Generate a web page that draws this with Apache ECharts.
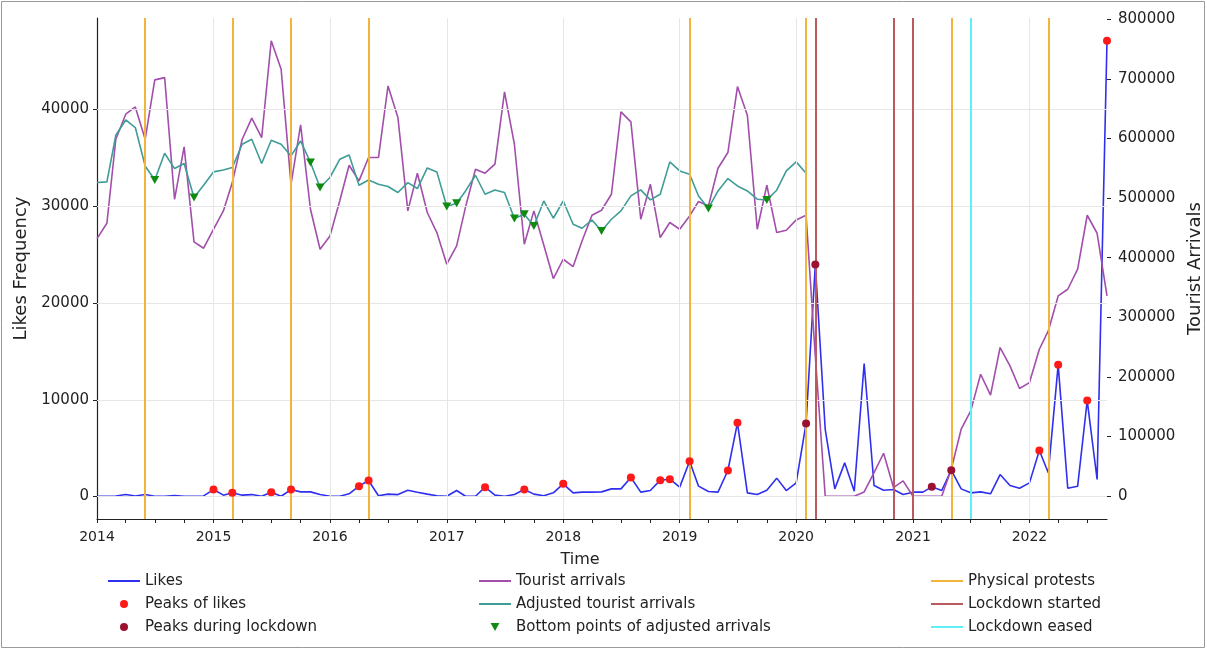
<!DOCTYPE html>
<html>
<head>
<meta charset="utf-8">
<title>Likes and tourist arrivals</title>
<script src="https://cdn.jsdelivr.net/npm/echarts@6/dist/echarts.min.js"></script>
<style>
  html, body { margin: 0; padding: 0; background: #ffffff; }
  #chart { width: 1207px; height: 650px; }
</style>
</head>
<body>
<div id="chart"></div>
<script>
// ---- data -------------------------------------------------------------
// Monthly observations, January 2014 to September 2022
const START_YEAR = 2014;
const START_MONTH = 0;
const MONTH_COUNT = 105;

const likes = [
  30, 30, 60, 200, 60, 200, 30, 30, 100, 30, 30, 60,
  720, 140, 380, 140, 200, 30, 450, 30, 720, 480, 480, 200,
  30, 30, 280, 1070, 1650, 80, 250, 200, 650, 450, 250, 80,
  30, 620, 30, 30, 970, 140, 30, 200, 720, 250, 80, 380,
  1310, 380, 450, 450, 480, 790, 790, 1960, 450, 620, 1690, 1790,
  970, 3650, 1070, 520, 450, 2690, 7620, 380, 200, 650, 1900, 620,
  1410, 7550, 23980, 6930, 790, 3480, 550, 13750, 1140, 650, 720, 200,
  450, 450, 1000, 620, 2720, 790, 380, 480, 280, 2270, 1140, 860,
  1410, 4750, 2450, 13610, 860, 1070, 9920, 1760, 47100
];

const touristArrivals = [
  432000, 457800, 598700, 640600, 652900, 598700, 698200, 702000, 498000, 585800, 426500, 415900,
  447700, 478500, 526000, 598700, 634000, 601500, 763800, 716000, 523000, 622700, 481300, 414200,
  436500, 495900, 555100, 528800, 568000, 568000, 688000, 635000, 478500, 541700, 475800, 442200,
  389100, 419800, 485200, 548400, 541700, 556800, 678000, 590300, 422600, 478500, 421400, 365000,
  397400, 385200, 428100, 471200, 479600, 506400, 644500, 627700, 464500, 523200, 433800, 459000,
  447700, 470100, 494200, 486800, 550000, 576400, 687000, 639000, 447700, 521500, 442200, 446100,
  463400, 471200, 235000, 0, 0, 0, 0, 7200, 39700, 72100, 14500, 25700,
  0, 0, 0, 0, 45300, 112400, 143100, 204600, 169400, 249400, 218600, 180600,
  190600, 246500, 277200, 335900, 347100, 380700, 471200, 441000, 335900
];

// Seasonally adjusted arrivals, January 2014 to February 2020
const adjustedArrivals = [
  526000, 527100, 605400, 631000, 618300, 553900, 530400, 575200, 549500, 557900, 500900, 521500,
  543900, 547200, 551200, 590300, 598700, 557900, 597000, 590300, 570700, 595800, 559600, 517700,
  534500, 565200, 572400, 521500, 530400, 523200, 519400, 509300, 526000, 516000, 550600, 543900,
  485800, 491400, 512000, 538300, 506400, 513700, 509300, 465700, 472900, 453300, 495200, 466200,
  495200, 456100, 449400, 463400, 444900, 464500, 478500, 503600, 513700, 496900, 506400, 560700,
  545600, 540000, 503600, 482700, 512000, 532800, 520400, 512000, 498100, 496900, 513200, 545600,
  560700, 541700
];

// Months flagged as peaks / bottoms (YYYY-MM)
const likePeakMonths = [
  '2015-01', '2015-03', '2015-07', '2015-09', '2016-04', '2016-05', '2017-05', '2017-09',
  '2018-01', '2018-08', '2018-11', '2018-12', '2019-02', '2019-06', '2019-07',
  '2022-02', '2022-04', '2022-07', '2022-09'
];
const lockdownPeakMonths = ['2020-02', '2020-03', '2021-03', '2021-05'];
const adjustedBottomMonths = [
  '2014-07', '2014-11', '2015-11', '2015-12', '2017-01', '2017-02',
  '2017-08', '2017-09', '2017-10', '2018-05', '2019-04', '2019-10'
];

// Event dates
const protestDates = [
  '2014-06-01', '2015-03-01', '2015-09-01', '2016-05-01',
  '2019-02-01', '2020-02-01', '2021-05-01', '2022-03-01'
];
const lockdownStartDates = ['2020-03-01', '2020-11-01', '2021-01-01'];
const lockdownEasedDates = ['2021-07-01'];

// Tick positions
const yearTicks = [2014, 2015, 2016, 2017, 2018, 2019, 2020, 2021, 2022];
const likesTicks = [0, 10000, 20000, 30000, 40000];
const arrivalsTicks = [0, 100000, 200000, 300000, 400000, 500000, 600000, 700000, 800000];

// ---- helpers ----------------------------------------------------------
const months = [];
for (let i = 0; i < MONTH_COUNT; i++) {
  months.push(Date.UTC(START_YEAR, START_MONTH + i, 1));
}
const monthKey = t => {
  const d = new Date(t);
  return d.getUTCFullYear() + '-' + String(d.getUTCMonth() + 1).padStart(2, '0');
};
const monthIndex = {};
months.forEach((t, i) => { monthIndex[monthKey(t)] = i; });
const dateTs = s => {
  const [y, m, d] = s.split('-').map(Number);
  return Date.UTC(y, m - 1, d);
};

const pairs = (vals) => vals.map((v, i) => [months[i], v]);
const pick = (keys, vals) => keys.map(k => [months[monthIndex[k]], vals[monthIndex[k]]]);

const quarterTicks = [];
for (let i = 0; i < MONTH_COUNT; i += 3) quarterTicks.push(months[i]);
const yearTs = yearTicks.map(y => Date.UTC(y, 0, 1));

// matplotlib-style 5% margins on the value axes
const padRange = (vals) => {
  const lo = Math.min(...vals), hi = Math.max(...vals);
  const p = (hi - lo) * 0.05;
  return [lo - p, hi + p];
};
const likesRange = padRange(likes);
const arrivalsRange = padRange(touristArrivals.concat(adjustedArrivals));

const FONT = 'DejaVu Sans';
const TEXT = '#222222';

const COLORS = {
  likes: '#2f2ff0',
  likePeak: '#ff1a1a',
  lockPeak: '#9b1230',
  tourist: '#a24fab',
  adjusted: '#3f9c96',
  bottom: '#108a10',
  protest: '#f3b43e',
  lockStart: '#b85a5e',
  lockEased: '#5ff0f5'
};

const downTriangle = 'path://M0,0 L10,0 L5,9 Z';
// flat bar used as the legend sample for line-type entries
const lineIcon = 'path://M0,0 H32 V2 H0 Z';

const vLines = (dates) => dates.map(d => ({ xAxis: dateTs(d) }));
const plain = v => String(Math.round(v));

const chart = echarts.init(document.getElementById('chart'), null, { renderer: 'canvas' });

const legendBase = {
  orient: 'vertical',
  top: 568,
  itemWidth: 32,
  itemHeight: 8,
  itemGap: 7,
  textStyle: { fontFamily: FONT, fontSize: 15, color: TEXT, lineHeight: 16 },
  selectedMode: false
};

chart.setOption({
  animation: false,
  backgroundColor: '#ffffff',
  textStyle: { fontFamily: FONT },
  grid: { left: 97, right: 100, top: 18, bottom: 131, containLabel: false, outerBoundsMode: 'none' },
  graphic: [{
    type: 'rect',
    shape: { x: 1.5, y: 1.5, width: 1203, height: 646 },
    style: { fill: 'none', stroke: '#9a9a9a', lineWidth: 1 },
    silent: true
  }],
  legend: [
    Object.assign({}, legendBase, {
      left: 103,
      data: [
        { name: 'Likes', icon: lineIcon },
        { name: 'Peaks of likes', icon: 'circle' },
        { name: 'Peaks during lockdown', icon: 'circle' }
      ]
    }),
    Object.assign({}, legendBase, {
      left: 474,
      data: [
        { name: 'Tourist arrivals', icon: lineIcon },
        { name: 'Adjusted tourist arrivals', icon: lineIcon },
        { name: 'Bottom points of adjusted arrivals', icon: downTriangle }
      ]
    }),
    Object.assign({}, legendBase, {
      left: 926,
      data: [
        { name: 'Physical protests', icon: lineIcon },
        { name: 'Lockdown started', icon: lineIcon },
        { name: 'Lockdown eased', icon: lineIcon }
      ]
    })
  ],
  xAxis: {
    type: 'value',
    min: months[0],
    max: months[MONTH_COUNT - 1],
    name: 'Time',
    nameLocation: 'middle',
    nameGap: 33,
    nameTextStyle: { fontFamily: FONT, fontSize: 16, color: TEXT, padding: [0, 44, 0, 0] },
    axisLine: { show: true, onZero: false, lineStyle: { color: '#222', width: 1.2 } },
    axisTick: { show: true, inside: false, length: 4, customValues: quarterTicks, lineStyle: { color: '#222' } },
    axisLabel: {
      customValues: yearTs,
      formatter: v => String(new Date(v).getUTCFullYear()),
      fontFamily: FONT, fontSize: 14, color: TEXT, margin: 11
    },
    splitLine: { show: false }
  },
  yAxis: [
    {
      type: 'value',
      position: 'left',
      min: likesRange[0],
      max: likesRange[1],
      name: 'Likes Frequency',
      nameLocation: 'middle',
      nameGap: 64,
      nameTextStyle: { fontFamily: FONT, fontSize: 18, color: TEXT },
      axisLine: { show: true, onZero: false, lineStyle: { color: '#222', width: 1.2 } },
      axisTick: { show: true, length: 4, customValues: likesTicks, lineStyle: { color: '#222' } },
      axisLabel: { customValues: likesTicks, formatter: plain, fontFamily: FONT, fontSize: 15, color: TEXT, margin: 8 },
      splitLine: { show: false }
    },
    {
      type: 'value',
      position: 'right',
      min: arrivalsRange[0],
      max: arrivalsRange[1],
      name: 'Tourist Arrivals',
      nameLocation: 'middle',
      nameGap: 72,
      nameRotate: 90,
      nameTextStyle: { fontFamily: FONT, fontSize: 18, color: TEXT },
      axisLine: { show: false },
      axisTick: { show: true, length: 4, customValues: arrivalsTicks, lineStyle: { color: '#222' } },
      axisLabel: { customValues: arrivalsTicks, formatter: plain, fontFamily: FONT, fontSize: 15, color: TEXT, margin: 11 },
      splitLine: { show: false }
    }
  ],
  series: [
    {
      // light grid: year verticals and horizontals at the likes ticks
      name: 'grid',
      type: 'line',
      data: [],
      silent: true,
      z: 0,
      markLine: {
        silent: true,
        symbol: 'none',
        label: { show: false },
        lineStyle: { color: '#e6e6e6', width: 1, type: 'solid' },
        data: yearTs.slice(1).map(t => ({ xAxis: t })).concat(likesTicks.map(v => ({ yAxis: v })))
      }
    },
    {
      name: 'Physical protests',
      type: 'line',
      data: [],
      z: 1,
      lineStyle: { color: COLORS.protest, width: 2 },
      itemStyle: { color: COLORS.protest },
      symbol: 'none',
      markLine: {
        silent: true, symbol: 'none', label: { show: false },
        lineStyle: { color: COLORS.protest, width: 2, type: 'solid' },
        data: vLines(protestDates)
      }
    },
    {
      name: 'Lockdown started',
      type: 'line',
      data: [],
      z: 1,
      lineStyle: { color: COLORS.lockStart, width: 2 },
      itemStyle: { color: COLORS.lockStart },
      symbol: 'none',
      markLine: {
        silent: true, symbol: 'none', label: { show: false },
        lineStyle: { color: COLORS.lockStart, width: 2, type: 'solid' },
        data: vLines(lockdownStartDates)
      }
    },
    {
      name: 'Lockdown eased',
      type: 'line',
      data: [],
      z: 1,
      lineStyle: { color: COLORS.lockEased, width: 2 },
      itemStyle: { color: COLORS.lockEased },
      symbol: 'none',
      markLine: {
        silent: true, symbol: 'none', label: { show: false },
        lineStyle: { color: COLORS.lockEased, width: 2, type: 'solid' },
        data: vLines(lockdownEasedDates)
      }
    },
    {
      name: 'Likes',
      type: 'line',
      yAxisIndex: 0,
      data: pairs(likes),
      symbol: 'none',
      z: 3,
      lineStyle: { color: COLORS.likes, width: 1.6 },
      itemStyle: { color: COLORS.likes }
    },
    {
      name: 'Peaks of likes',
      type: 'scatter',
      yAxisIndex: 0,
      data: pick(likePeakMonths, likes),
      symbol: 'circle',
      symbolSize: 8,
      z: 5,
      itemStyle: { color: COLORS.likePeak, opacity: 1 }
    },
    {
      name: 'Peaks during lockdown',
      type: 'scatter',
      yAxisIndex: 0,
      data: pick(lockdownPeakMonths, likes),
      symbol: 'circle',
      symbolSize: 8,
      z: 5,
      itemStyle: { color: COLORS.lockPeak, opacity: 1 }
    },
    {
      name: 'Tourist arrivals',
      type: 'line',
      yAxisIndex: 1,
      data: pairs(touristArrivals),
      symbol: 'none',
      z: 4,
      lineStyle: { color: COLORS.tourist, width: 1.6 },
      itemStyle: { color: COLORS.tourist }
    },
    {
      name: 'Adjusted tourist arrivals',
      type: 'line',
      yAxisIndex: 1,
      data: pairs(adjustedArrivals),
      symbol: 'none',
      z: 4,
      lineStyle: { color: COLORS.adjusted, width: 1.6 },
      itemStyle: { color: COLORS.adjusted }
    },
    {
      name: 'Bottom points of adjusted arrivals',
      type: 'scatter',
      yAxisIndex: 1,
      data: pick(adjustedBottomMonths, adjustedArrivals),
      symbol: downTriangle,
      symbolSize: [9, 8],
      z: 5,
      itemStyle: { color: COLORS.bottom, opacity: 1 }
    }
  ]
});
</script>
</body>
</html>
